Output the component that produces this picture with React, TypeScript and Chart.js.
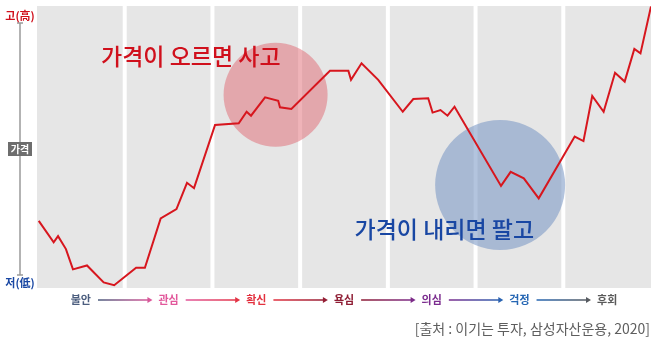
import React, { useEffect, useRef } from "react";
import { Chart, registerables } from "chart.js";

Chart.register(...registerables);

// x: position in phase units (0..7, one unit per phase panel); y: relative price (0 = low, 100 = high)
const priceX = [
  0.02, 0.19, 0.24, 0.33, 0.41, 0.57, 0.76, 0.88, 1.13, 1.23, 1.41, 1.59, 1.71, 1.79,
  2.03, 2.3, 2.39, 2.44, 2.6, 2.75, 2.77, 2.9, 3.34, 3.55, 3.58, 3.7, 3.89, 4.17, 4.29,
  4.46, 4.51, 4.6, 4.68, 4.76, 5.29, 5.4, 5.55, 5.72, 6.13, 6.23, 6.33, 6.46, 6.59, 6.7,
  6.81, 6.88, 7.0,
];
const priceY = [
  23.8, 16.2, 18.4, 13.8, 6.6, 8.0, 2.0, 1.0, 7.2, 7.2, 24.7, 28.0, 37.3, 35.4,
  57.8, 58.4, 62.5, 61.1, 67.6, 66.4, 64.1, 63.5, 77.0, 77.0, 73.8, 79.7, 73.8, 62.5, 67.0,
  67.3, 62.2, 63.1, 61.1, 64.3, 36.2, 41.2, 38.9, 31.8, 53.7, 52.1, 68.1, 62.5, 76.3, 73.2,
  84.8, 83.2, 99.8,
];

const phaseLabels = ["불안", "관심", "확신", "욕심", "의심", "걱정", "후회"];
const phaseColors = ["#4b5d7e", "#e2579b", "#e3313f", "#8e1c33", "#7b2c8e", "#2566b3", "#5a5a5a"];

const zoneX = [2.72, 5.28];
const zoneY = [68.5, 36.5];
const zoneR = [52, 65];
const zoneColors = ["rgba(224,104,114,0.5)", "rgba(116,148,194,0.55)"];

const noteTexts = ["가격이 오르면 사고", "가격이 내리면 팔고"];
const noteX = [0.73, 3.62];
const noteY = [82.3, 20.9];
const noteColors = ["#d0101c", "#1947a3"];

const axisTop = "고(高)";
const axisBottom = "저(低)";
const axisMid = "가격";
const sourceText = "[출처 : 이기는 투자, 삼성자산운용, 2020]";

const FONT = '"Noto Sans CJK KR", "Noto Sans", sans-serif';

const decor = {
  id: "decor",
  beforeDatasetsDraw(chart: any) {
    const { ctx, chartArea, scales } = chart;
    const xs = scales.x;
    ctx.save();
    ctx.fillStyle = "#e6e6e6";
    for (let i = 0; i < 7; i++) {
      const l = xs.getPixelForValue(i) + (i > 0 ? 2 : 0);
      const r = xs.getPixelForValue(i + 1) - (i < 6 ? 2 : 0);
      ctx.fillRect(l, chartArea.top, r - l, chartArea.bottom - chartArea.top);
    }
    ctx.restore();
  },
  afterDatasetsDraw(chart: any) {
    const { ctx, chartArea, scales } = chart;
    const xs = scales.x;
    const ys = scales.y;
    ctx.save();

    // annotations
    ctx.font = `500 23px ${FONT}`;
    ctx.textBaseline = "middle";
    ctx.textAlign = "left";
    noteTexts.forEach((t, i) => {
      ctx.fillStyle = noteColors[i];
      ctx.fillText(t, xs.getPixelForValue(noteX[i]), ys.getPixelForValue(noteY[i]));
    });

    // left price axis
    const ax = 20;
    const topY = chartArea.top + 17;
    const botY = chartArea.bottom - 13;
    ctx.strokeStyle = "#9a9a9a";
    ctx.lineWidth = 1.5;
    ctx.beginPath();
    ctx.moveTo(ax, topY);
    ctx.lineTo(ax, botY);
    ctx.moveTo(ax - 3, topY);
    ctx.lineTo(ax + 3, topY);
    ctx.moveTo(ax - 3, botY);
    ctx.lineTo(ax + 3, botY);
    ctx.stroke();

    ctx.textAlign = "center";
    ctx.font = `bold 11px ${FONT}`;
    ctx.fillStyle = "#d0101c";
    ctx.fillText(axisTop, ax, chartArea.top + 10);
    ctx.fillStyle = "#1947a3";
    ctx.fillText(axisBottom, ax, chartArea.bottom - 5);

    const midY = (chartArea.top + chartArea.bottom) / 2 + 2;
    ctx.fillStyle = "#6d6d6d";
    ctx.fillRect(8, midY - 7, 24, 14);
    ctx.fillStyle = "#ffffff";
    ctx.font = `bold 10px ${FONT}`;
    ctx.fillText(axisMid, ax, midY + 0.5);

    // phase labels and arrows
    const ly = chartArea.bottom + 12;
    ctx.font = `bold 11px ${FONT}`;
    const centers = phaseLabels.map((_, i) => xs.getPixelForValue(i + 0.5));
    const widths = phaseLabels.map((t) => ctx.measureText(t).width);
    phaseLabels.forEach((t, i) => {
      ctx.fillStyle = phaseColors[i];
      ctx.fillText(t, centers[i], ly);
    });
    for (let i = 0; i < 6; i++) {
      const x1 = centers[i] + widths[i] / 2 + 7;
      const x2 = centers[i + 1] - widths[i + 1] / 2 - 6;
      const g = ctx.createLinearGradient(x1, 0, x2, 0);
      g.addColorStop(0, phaseColors[i]);
      g.addColorStop(1, phaseColors[i + 1]);
      ctx.strokeStyle = g;
      ctx.fillStyle = g;
      ctx.lineWidth = 1.5;
      ctx.beginPath();
      ctx.moveTo(x1, ly);
      ctx.lineTo(x2 - 4, ly);
      ctx.stroke();
      ctx.beginPath();
      ctx.moveTo(x2, ly);
      ctx.lineTo(x2 - 5, ly - 3);
      ctx.lineTo(x2 - 5, ly + 3);
      ctx.closePath();
      ctx.fill();
    }

    // source
    ctx.font = `14px ${FONT}`;
    ctx.textAlign = "right";
    ctx.fillStyle = "#5e5e5e";
    ctx.fillText(sourceText, 650, chartArea.bottom + 41);

    ctx.restore();
  },
};

export default function App() {
  const ref = useRef<HTMLCanvasElement>(null);
  useEffect(() => {
    if (!ref.current) return;
    const chart = new Chart(ref.current, {
      type: "line",
      data: {
        datasets: [
          {
            type: "line",
            data: priceX.map((x, i) => ({ x, y: priceY[i] })),
            borderColor: "#d7161e",
            borderWidth: 2,
            pointRadius: 0,
            tension: 0,
            fill: false,
          } as any,
          {
            type: "bubble",
            data: zoneX.map((x, i) => ({ x, y: zoneY[i], r: zoneR[i] })),
            backgroundColor: zoneColors,
            borderWidth: 0,
            hoverRadius: 0,
          } as any,
        ],
      },
      options: {
        responsive: false,
        animation: false,
        events: [],
        layout: { autoPadding: false, padding: { left: 37, right: 7, top: 6, bottom: 50 } },
        plugins: { legend: { display: false }, tooltip: { enabled: false } },
        scales: {
          x: { type: "linear", min: 0, max: 7, display: false },
          y: { type: "linear", min: 0, max: 100, display: false },
        },
      },
      plugins: [decor],
    });
    return () => chart.destroy();
  }, []);
  return (
    <div style={{ position: "fixed", left: 0, top: 0, width: 658, height: 338, background: "#fff" }}>
      <canvas ref={ref} width={658} height={338} style={{ display: "block" }} />
    </div>
  );
}
